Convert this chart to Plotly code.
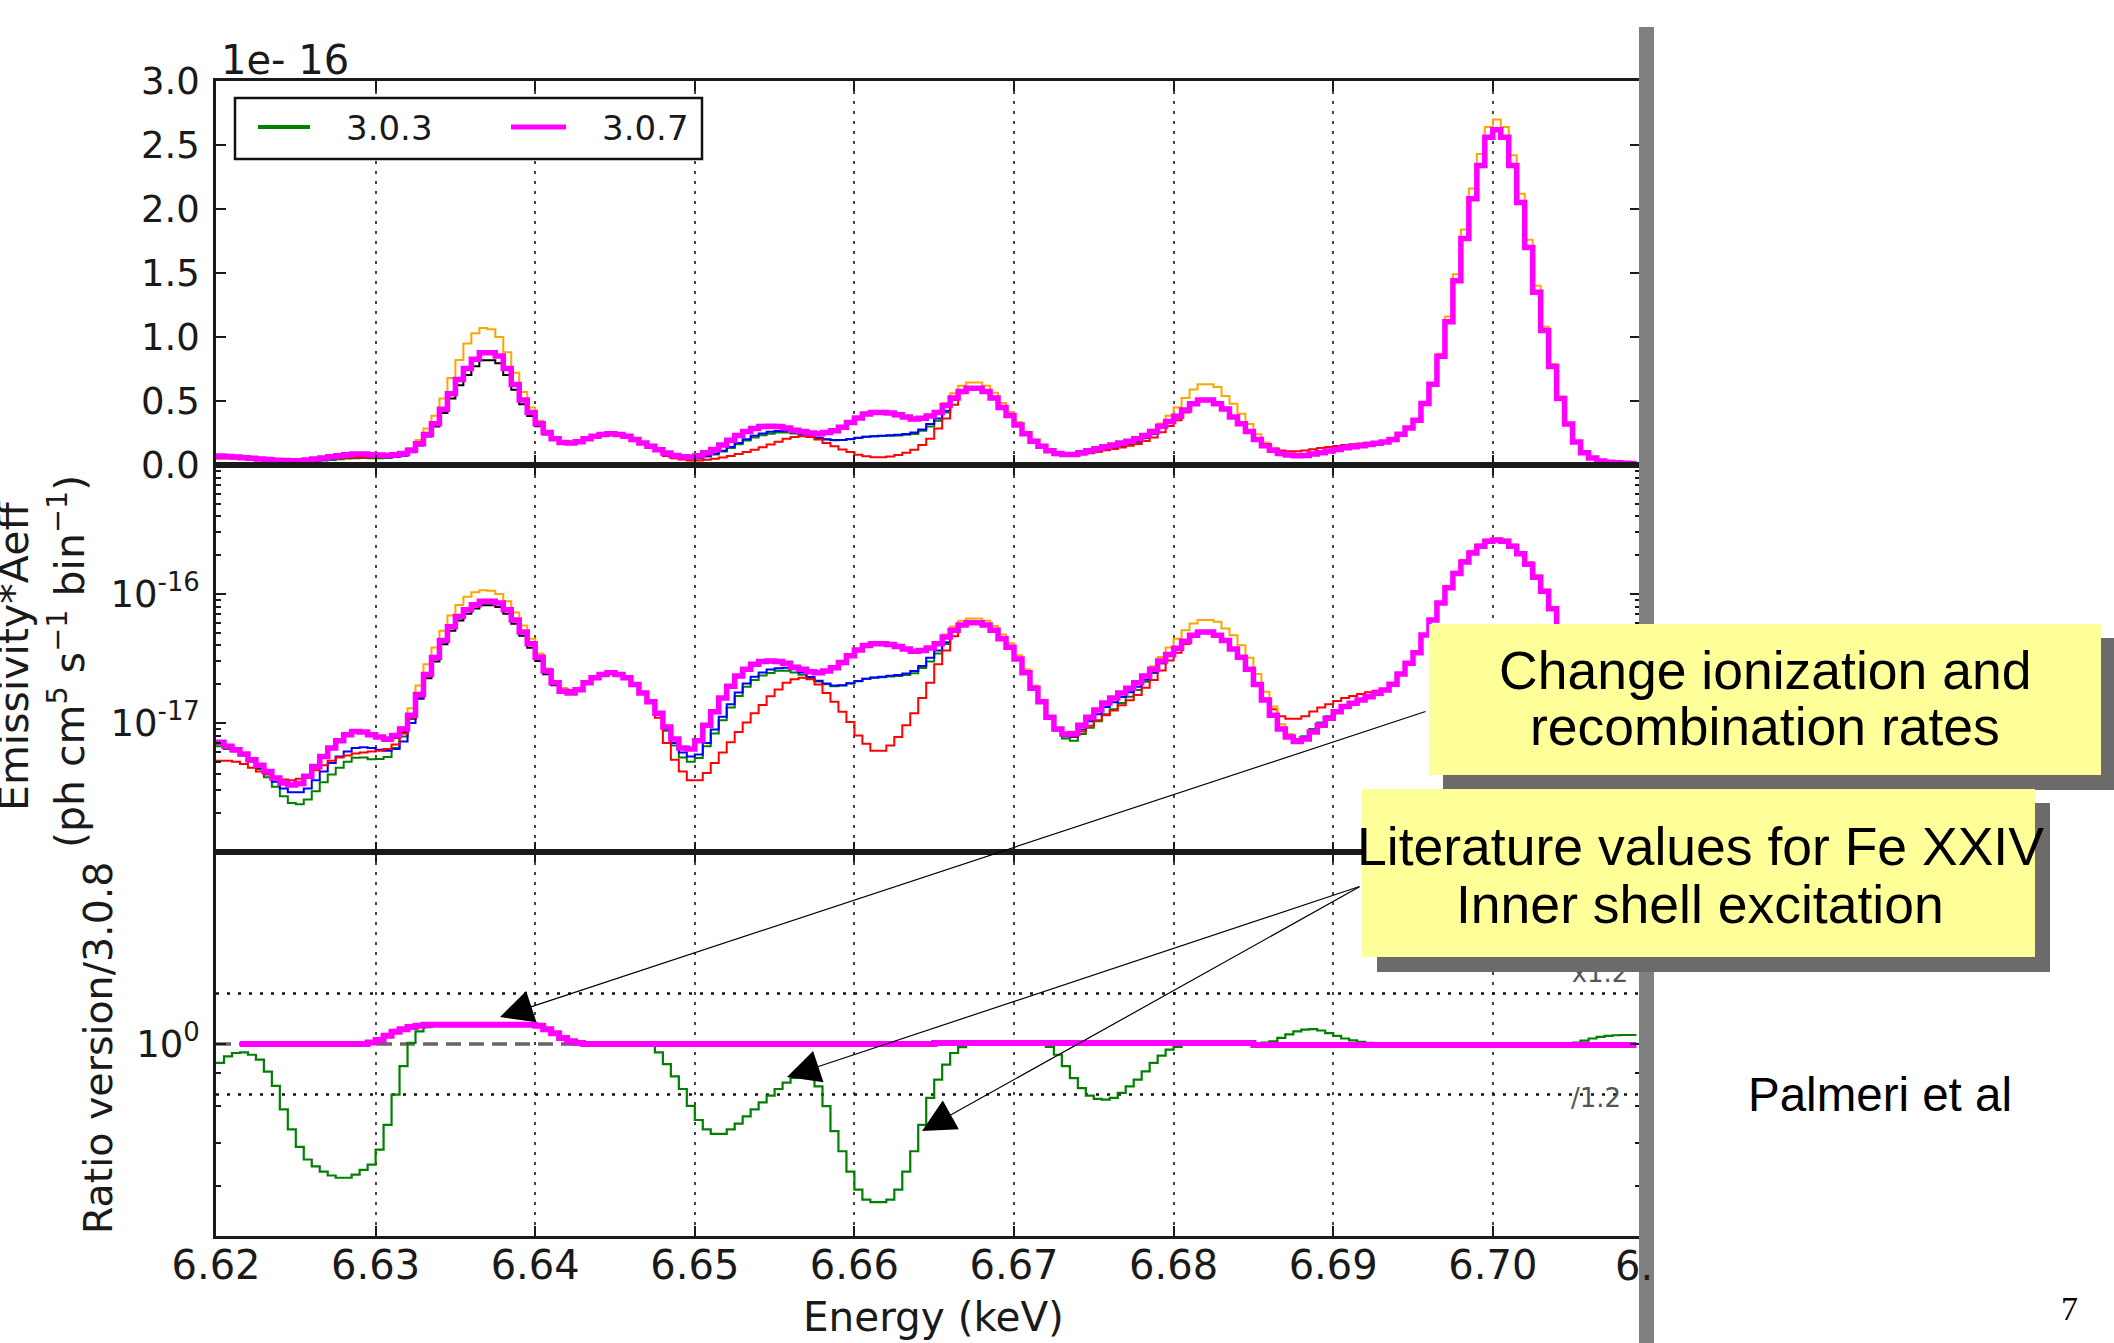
import plotly.graph_objects as go

W, H = 2114, 1343

# ---------------- data ----------------
# spectral bins: left edges 6.620, 6.6205, ... (0.5 eV bins) keV
BIN_START = 6.620
BIN_WIDTH = 0.0005

# emissivity*Aeff in units of 1e-18 ph cm^5 s^-1 bin^-1
em_307 = [  # magenta, version 3.0.7
    7.1, 6.6, 6.2, 5.75, 5.2, 4.7, 4.2, 3.75, 3.42, 3.3,
    3.4, 3.86, 4.6, 5.5, 6.4, 7.3, 8.1, 8.6, 8.5, 8.1,
    7.8, 7.5, 8.0, 9.0, 11.5, 16.6, 23.8, 32.2, 43.6, 55.7,
    66.8, 75.4, 82.6, 87.7, 87.7, 85.1, 75.4, 62.9, 50.8, 41.1,
    32.3, 25.3, 20.5, 17.6, 17.1, 18.1, 20.5, 22.4, 23.8, 24.5,
    23.8, 22.4, 19.9, 17.1, 14.6, 11.9, 9.3, 7.5, 6.4, 6.3,
    7.3, 9.6, 12.2, 15.6, 19.3, 23.1, 26.1, 28.6, 30.0, 30.3,
    30.0, 29.0, 27.1, 26.1, 25.0, 24.5, 25.3, 26.8, 29.5, 33.2,
    36.8, 39.8, 41.1, 41.1, 40.6, 39.2, 37.5, 36.0, 36.5, 38.2,
    41.1, 46.4, 52.4, 57.4, 59.9, 59.9, 57.4, 52.4, 45.0, 38.7,
    31.3, 24.5, 18.6, 14.6, 11.1, 9.0, 8.2, 8.3, 9.6, 11.1,
    12.6, 14.3, 15.6, 17.1, 18.6, 20.5, 23.1, 26.1, 30.3, 34.0,
    38.0, 43.0, 47.8, 50.8, 50.8, 47.8, 43.7, 37.5, 32.3, 26.1,
    19.9, 15.1, 11.5, 9.0, 7.8, 7.2, 7.5, 8.5, 9.6, 10.9,
    12.2, 13.4, 14.2, 15.1, 16.0, 17.0, 18.0, 20.0, 24.0, 29.0,
    35.0, 48.0, 63.0, 85.0, 112, 144, 177, 208, 234, 256,
    262, 256, 234, 205, 170, 135, 105, 77, 52, 32,
    18, 9.5, 5.5, 3.2, 2.2, 1.7, 1.4, 1.2,
]
em_308 = [  # black, version 3.0.8
    7.1, 6.6, 6.2, 5.75, 5.2, 4.7, 4.2, 3.75, 3.42, 3.3,
    3.4, 3.86, 4.6, 5.5, 6.4, 7.3, 8.1, 8.6, 8.5, 8.1,
    7.7, 7.3, 7.7, 8.5, 10.8, 15.5, 22.2, 30.0, 40.7, 52.0,
    62.3, 70.3, 77.1, 81.8, 81.8, 79.4, 70.3, 58.7, 47.4, 38.3,
    30.2, 23.9, 19.6, 17.1, 16.8, 18.0, 20.5, 22.4, 23.8, 24.5,
    23.8, 22.4, 19.9, 17.1, 14.6, 11.9, 9.3, 7.5, 6.4, 6.3,
    7.3, 9.6, 12.2, 15.6, 19.3, 23.1, 26.1, 28.6, 30.0, 30.3,
    30.0, 29.0, 27.1, 26.1, 25.0, 24.5, 25.3, 26.8, 29.5, 33.2,
    36.8, 39.8, 41.1, 41.1, 40.6, 39.2, 37.5, 36.0, 36.5, 38.2,
    41.1, 46.4, 52.4, 57.4, 59.9, 59.9, 57.4, 52.4, 45.0, 38.7,
    31.3, 24.5, 18.6, 14.6, 11.1, 9.0, 8.2, 8.3, 9.6, 11.1,
    12.6, 14.3, 15.6, 17.1, 18.6, 20.5, 23.1, 26.1, 30.3, 34.0,
    38.0, 43.0, 47.8, 50.8, 50.8, 47.8, 43.7, 37.5, 32.3, 26.1,
    19.9, 15.1, 11.5, 9.0, 7.8, 7.2, 7.5, 8.5, 9.6, 10.9,
    12.2, 13.4, 14.2, 15.1, 16.0, 17.0, 18.0, 20.0, 24.0, 29.0,
    35.0, 48.0, 63.0, 85.0, 112, 144, 177, 208, 234, 256,
    262, 256, 234, 205, 170, 135, 105, 77, 52, 32,
    18, 9.5, 5.5, 3.2, 2.2, 1.7, 1.4, 1.2,
]
em_303 = [  # green, version 3.0.3
    6.6, 6.3, 6.0, 5.6, 5.0, 4.4, 3.8, 3.2, 2.7, 2.4,
    2.35, 2.55, 2.96, 3.47, 3.98, 4.5, 5.0, 5.37, 5.4, 5.24,
    5.26, 5.45, 6.4, 7.85, 10.8, 16.2, 23.6, 32.2, 43.6, 55.7,
    66.8, 75.4, 82.6, 87.7, 87.7, 85.1, 75.4, 62.9, 50.8, 41.1,
    32.3, 25.3, 20.5, 17.6, 17.1, 18.1, 20.5, 22.4, 23.8, 24.5,
    23.8, 22.4, 19.9, 17.1, 14.6, 11.6, 8.7, 6.7, 5.4, 5.0,
    5.35, 6.6, 8.3, 10.5, 13.2, 16.2, 19.1, 21.5, 23.3, 24.4,
    25.4, 25.4, 24.6, 23.7, 22.2, 21.0, 20.0, 19.3, 19.5, 20.2,
    21.1, 22.0, 22.4, 22.6, 22.9, 23.1, 23.6, 24.3, 26.7, 30.0,
    34.6, 41.0, 50.7, 56.8, 59.8, 59.9, 57.4, 52.4, 45.0, 38.7,
    31.3, 24.5, 18.6, 14.6, 11.0, 8.7, 7.6, 7.3, 8.2, 9.2,
    10.3, 11.7, 12.8, 14.3, 16.0, 18.0, 20.9, 24.4, 29.1, 33.3,
    37.6, 43.0, 47.8, 50.8, 50.8, 47.8, 43.7, 37.5, 32.3, 26.1,
    19.9, 15.2, 11.6, 9.2, 8.1, 7.5, 7.9, 9.0, 10.1, 11.3,
    12.6, 13.7, 14.4, 15.2, 16.0, 17.0, 18.0, 20.0, 24.0, 29.0,
    35.0, 48.0, 63.0, 85.0, 112, 144, 177, 208, 234, 256,
    262, 256, 234, 205, 170, 135, 105, 77, 52, 32.1,
    18.1, 9.6, 5.6, 3.3, 2.27, 1.75, 1.45, 1.24,
]
em_blue = [
    7.1, 6.6, 6.2, 5.7, 5.1, 4.5, 4.0, 3.5, 3.1, 2.9,
    2.9, 3.1, 3.6, 4.2, 4.9, 5.5, 6.0, 6.4, 6.5, 6.4,
    6.2, 6.1, 6.3, 7.2, 10.0, 15.5, 23.0, 32.0, 43.6, 55.7,
    66.8, 75.4, 82.6, 87.7, 87.7, 85.1, 75.4, 62.9, 50.8, 41.1,
    32.3, 25.3, 20.5, 17.6, 17.1, 18.1, 20.5, 22.4, 23.8, 24.5,
    23.8, 22.4, 19.9, 17.1, 14.6, 11.8, 9.0, 7.0, 5.9, 5.5,
    5.7, 7.0, 8.9, 11.2, 14.0, 17.2, 20.2, 22.8, 24.6, 26.0,
    26.6, 26.8, 26.1, 24.6, 22.7, 21.3, 20.2, 19.5, 19.6, 20.3,
    21.2, 22.0, 22.5, 22.8, 23.2, 23.6, 24.2, 25.3, 27.7, 32.0,
    36.4, 42.3, 51.5, 57.0, 59.9, 59.9, 57.4, 52.4, 45.0, 38.7,
    31.3, 24.5, 18.6, 14.6, 11.1, 8.9, 7.9, 7.8, 8.9, 10.3,
    11.7, 13.3, 14.5, 15.9, 17.3, 19.1, 21.6, 24.6, 29.0, 33.5,
    37.8, 43.0, 47.8, 50.8, 50.8, 47.8, 43.7, 37.5, 32.3, 26.1,
    19.9, 15.1, 11.5, 9.0, 7.8, 7.2, 7.5, 8.5, 9.6, 10.9,
    12.2, 13.4, 14.2, 15.1, 16.0, 17.0, 18.0, 20.0, 24.0, 29.0,
    35.0, 48.0, 63.0, 85.0, 112, 144, 177, 208, 234, 256,
    262, 256, 234, 205, 170, 135, 105, 77, 52, 32,
    18, 9.5, 5.5, 3.2, 2.2, 1.7, 1.4, 1.2,
]
em_red = [
    5.1, 5.1, 5.0, 4.8, 4.5, 4.2, 4.0, 3.8, 3.65, 3.6,
    3.7, 3.9, 4.3, 4.7, 5.1, 5.4, 5.6, 5.8, 5.9, 6.0,
    6.1, 6.3, 6.8, 8.3, 11.0, 16.0, 23.0, 32.0, 43.6, 55.7,
    66.8, 75.4, 82.6, 87.7, 87.7, 85.1, 75.4, 62.9, 50.8, 41.1,
    32.3, 25.3, 20.5, 18.5, 18.0, 18.5, 20.5, 22.4, 23.8, 24.5,
    23.8, 22.4, 19.9, 17.1, 14.6, 11.0, 7.0, 5.2, 4.2, 3.6,
    3.6, 4.1, 4.9, 5.9, 7.1, 8.5, 10.1, 11.9, 13.8, 16.1,
    18.2, 20.5, 21.8, 22.4, 21.8, 19.9, 17.1, 14.6, 12.2, 10.2,
    8.0, 6.9, 6.1, 6.1, 6.7, 7.8, 9.6, 11.9, 15.6, 20.5,
    28.6, 36.4, 47.0, 57.4, 59.9, 59.9, 57.4, 52.4, 45.0, 38.7,
    31.3, 24.5, 18.6, 14.6, 11.1, 8.8, 8.0, 7.9, 8.6, 9.5,
    10.5, 11.5, 12.5, 13.7, 15.0, 16.5, 18.8, 21.5, 25.5, 30.5,
    35.0, 41.0, 47.8, 50.8, 50.8, 47.8, 43.7, 37.5, 32.3, 26.1,
    19.9, 15.5, 12.8, 11.3, 10.8, 10.8, 11.3, 12.3, 13.2, 14.0,
    14.8, 15.6, 16.2, 16.8, 17.3, 17.8, 18.3, 20.0, 24.0, 29.0,
    35.0, 48.0, 63.0, 85.0, 112, 144, 177, 208, 234, 256,
    262, 256, 234, 205, 170, 135, 105, 77, 52, 32,
    18, 9.5, 5.5, 3.2, 2.2, 1.7, 1.4, 1.2,
]
em_orange = [
    7.1, 6.6, 6.2, 5.75, 5.2, 4.7, 4.2, 3.75, 3.42, 3.3,
    3.4, 3.86, 4.6, 5.5, 6.4, 7.3, 8.1, 8.6, 8.5, 8.1,
    7.8, 7.5, 8.0, 9.3, 13.0, 19.5, 28.5, 38.5, 52.0, 68.0,
    82.0, 95.0, 103, 107, 106, 100, 88, 72, 57, 45,
    34.5, 26.5, 21.0, 18.5, 17.8, 18.3, 20.5, 22.4, 23.8, 24.5,
    23.8, 22.4, 19.9, 17.1, 14.6, 11.9, 9.3, 7.5, 6.4, 6.3,
    7.3, 9.6, 12.2, 15.6, 19.3, 23.1, 26.1, 28.6, 30.0, 30.3,
    30.0, 29.0, 27.1, 26.1, 25.0, 24.5, 25.3, 26.8, 29.5, 33.2,
    36.8, 39.8, 41.1, 41.1, 40.6, 39.2, 37.5, 36.0, 36.5, 38.2,
    41.5, 48.5, 56.0, 62.0, 64.5, 64.5, 62.0, 56.5, 48.5, 41.5,
    33.5, 26.0, 19.5, 15.0, 11.3, 9.1, 8.3, 8.3, 9.6, 11.1,
    12.6, 14.3, 15.6, 17.1, 18.6, 20.5, 23.5, 27.5, 32.5, 38.5,
    45.0, 52.4, 59.0, 63.0, 63.0, 61.0, 54.0, 47.8, 40.0, 32.0,
    24.0, 17.5, 13.4, 9.8, 8.2, 7.4, 7.6, 8.5, 9.6, 10.9,
    12.2, 13.4, 14.2, 15.1, 16.0, 17.0, 18.0, 20.0, 24.0, 29.0,
    35.0, 48.0, 63.0, 87.0, 116, 149, 184, 216, 243, 264,
    270, 264, 242, 212, 176, 140, 108, 79, 53.5, 33,
    18, 9.5, 5.5, 3.2, 2.2, 1.7, 1.4, 1.2,
]

# ratio to version 3.0.8 (bottom panel)
ratio_303 = [
    0.934, 0.956, 0.968, 0.970, 0.962, 0.945, 0.905, 0.86, 0.79, 0.735,
    0.69, 0.659, 0.643, 0.631, 0.622, 0.617, 0.617, 0.624, 0.635, 0.647,
    0.683, 0.747, 0.833, 0.923, 1.004, 1.047, 1.063, 1.072, 1.072, 1.072,
    1.072, 1.072, 1.072, 1.072, 1.072, 1.072, 1.072, 1.072, 1.072, 1.072,
    1.068, 1.055, 1.04, 1.022, 1.01, 1.004, 1.0, 1.0, 1.0, 1.0,
    1.0, 1.0, 1.0, 1.0, 1.0, 0.97, 0.93, 0.89, 0.85, 0.80,
    0.76, 0.735, 0.723, 0.723, 0.735, 0.75, 0.77, 0.79, 0.81, 0.83,
    0.85, 0.87, 0.885, 0.893, 0.885, 0.858, 0.799, 0.730, 0.679, 0.631,
    0.591, 0.570, 0.565, 0.565, 0.570, 0.591, 0.631, 0.679, 0.747, 0.823,
    0.879, 0.928, 0.968, 0.989, 0.998, 1.0, 1.0, 1.0, 1.0, 1.0,
    1.0, 1.0, 1.0, 1.0, 0.99, 0.962, 0.923, 0.884, 0.853, 0.830,
    0.820, 0.818, 0.823, 0.838, 0.858, 0.879, 0.906, 0.934, 0.959, 0.980,
    0.99, 1.0, 1.0, 1.0, 1.0, 1.0, 1.0, 1.0, 1.0, 1.0,
    1.0, 1.005, 1.01, 1.022, 1.035, 1.047, 1.053, 1.055, 1.05, 1.04,
    1.03, 1.02, 1.013, 1.008, 1.004, 1.002, 1.0, 1.0, 1.0, 1.0,
    1.0, 1.0, 1.0, 1.0, 1.0, 1.0, 1.0, 1.0, 1.0, 1.0,
    1.0, 1.0, 1.0, 1.0, 1.0, 1.0, 1.0, 1.0, 1.0, 1.002,
    1.005, 1.012, 1.02, 1.026, 1.03, 1.032, 1.033, 1.033,
]
ratio_307 = [
    None, None, None, 1.0, 1.0, 1.0, 1.0, 1.0, 1.0, 1.0,
    1.0, 1.0, 1.0, 1.0, 1.0, 1.0, 1.0, 1.0, 1.0, 1.005,
    1.015, 1.03, 1.045, 1.055, 1.063, 1.068, 1.072, 1.072, 1.072, 1.072,
    1.072, 1.072, 1.072, 1.072, 1.072, 1.072, 1.072, 1.072, 1.072, 1.072,
    1.068, 1.055, 1.04, 1.022, 1.01, 1.004, 1.0, 1.0, 1.0, 1.0,
    1.0, 1.0, 1.0, 1.0, 1.0, 1.0, 1.0, 1.0, 1.0, 1.0,
    1.0, 1.0, 1.0, 1.0, 1.0, 1.0, 1.0, 1.0, 1.0, 1.0,
    1.0, 1.0, 1.0, 1.0, 1.0, 1.0, 1.0, 1.0, 1.0, 1.0,
    1.0, 1.0, 1.0, 1.0, 1.0, 1.0, 1.0, 1.0, 1.0, 1.0,
    1.004, 1.004, 1.004, 1.004, 1.004, 1.004, 1.004, 1.004, 1.004, 1.004,
    1.004, 1.004, 1.004, 1.004, 1.004, 1.004, 1.004, 1.004, 1.004, 1.004,
    1.004, 1.004, 1.004, 1.004, 1.004, 1.004, 1.004, 1.004, 1.004, 1.004,
    1.004, 1.004, 1.004, 1.004, 1.004, 1.004, 1.004, 1.004, 1.004, 1.004,
    0.996, 0.996, 0.996, 0.996, 0.996, 0.996, 0.996, 0.996, 0.996, 0.996,
    0.996, 0.996, 0.996, 0.996, 0.996, 0.996, 0.996, 0.996, 0.996, 0.996,
    0.996, 0.996, 0.996, 0.996, 0.996, 0.996, 0.996, 0.996, 0.996, 0.996,
    0.996, 0.996, 0.996, 0.996, 0.996, 0.996, 0.996, 0.996, 0.996, 0.996,
    0.996, 0.996, 0.996, 0.996, 0.996, 0.996, 0.996, 0.996,
]

x_tick_vals = [6.62, 6.63, 6.64, 6.65, 6.66, 6.67, 6.68, 6.69, 6.70]
x_tick_text = ["6.62", "6.63", "6.64", "6.65", "6.66", "6.67", "6.68", "6.69", "6.70"]
lin_tick_vals = [0.0, 0.5, 1.0, 1.5, 2.0, 2.5, 3.0]          # x 1e-16
lin_tick_text = ["0.0", "0.5", "1.0", "1.5", "2.0", "2.5", "3.0"]
log_tick_vals = [1e-16, 1e-17]
log_tick_text = ["10<sup>-16</sup>", "10<sup>-17</sup>"]
ratio_tick_vals = [1.0]
ratio_tick_text = ["10<sup>0</sup>"]
ratio_band = [1.2, 1 / 1.2]

series = [  # (name, values, colour, width) in drawing order
    ("3.0.8", em_308, "#000000", 2.0),
    ("3.0.3", em_303, "#008000", 2.0),
    ("blue", em_blue, "#0000ff", 2.0),
    ("red", em_red, "#ff0000", 2.0),
    ("orange", em_orange, "#ffa500", 2.0),
    ("3.0.7", em_307, "#ff00ff", 5.5),
]

# ---------------- helpers ----------------
def px(x):
    return x / W


def py(y):
    return 1 - y / H


def steps(vals, scale=1.0):
    xs = [BIN_START + BIN_WIDTH * i for i in range(len(vals) + 1)]
    ys = [None if v is None else v * scale for v in vals]
    ys.append(ys[-1])
    return xs, ys


X_RANGE = [6.62, 6.62 + (1640 - 216) / 15960]
XD = [px(216), px(1640)]
YD_TOP = [py(465), py(81)]
YD_MID = [py(852), py(465)]
YD_BOT = [py(1236), py(852)]

TICKFONT = dict(family="DejaVu Sans", size=37, color="#1a1a1a")
XTICKFONT = dict(family="DejaVu Sans", size=40, color="#1a1a1a")
AXCOL = "#1a1a1a"

fig = go.Figure()

for name, vals, col, wd in series:
    xs, ys = steps(vals, 1e-18)
    fig.add_trace(go.Scatter(x=xs, y=ys, mode="lines", name=name, line=dict(color=col, width=wd, shape="hv"),
                             xaxis="x", yaxis="y", showlegend=False, hoverinfo="skip"))
    fig.add_trace(go.Scatter(x=xs, y=ys, mode="lines", name=name, line=dict(color=col, width=wd, shape="hv"),
                             xaxis="x2", yaxis="y2", showlegend=False, hoverinfo="skip"))

# ratio panel reference lines
for yv in ratio_band:
    fig.add_trace(go.Scatter(x=X_RANGE, y=[yv, yv], mode="lines", line=dict(color="#111", width=2.5, dash="3px,8px"),
                             xaxis="x3", yaxis="y3", showlegend=False, hoverinfo="skip"))
fig.add_trace(go.Scatter(x=X_RANGE, y=[1.0, 1.0], mode="lines", line=dict(color="#666666", width=3.5, dash="15px,8px"),
                         xaxis="x3", yaxis="y3", showlegend=False, hoverinfo="skip"))
xs, ys = steps(ratio_303)
fig.add_trace(go.Scatter(x=xs, y=ys, mode="lines", name="3.0.3 / 3.0.8", line=dict(color="#008000", width=2.2, shape="hv"),
                         xaxis="x3", yaxis="y3", showlegend=False, hoverinfo="skip"))
xs, ys = steps(ratio_307)
fig.add_trace(go.Scatter(x=xs, y=ys, mode="lines", name="3.0.7 / 3.0.8", line=dict(color="#ff00ff", width=6, shape="hv"),
                         xaxis="x3", yaxis="y3", showlegend=False, hoverinfo="skip"))
# band labels
fig.add_trace(go.Scatter(x=[6.62 + 1384 / 15960, 6.62 + 1380 / 15960], y=[1.28, 0.815], mode="text",
                         text=["x1.2", "/1.2"], textposition="middle center",
                         textfont=dict(family="DejaVu Sans", size=26, color="#555555"),
                         xaxis="x3", yaxis="y3", showlegend=False, hoverinfo="skip", cliponaxis=False))

xcommon = dict(range=X_RANGE, tickvals=x_tick_vals, ticktext=x_tick_text, ticks="inside", ticklen=10, tickwidth=2,
               tickcolor=AXCOL, showline=True, linecolor=AXCOL, linewidth=2.5, mirror="allticks",
               showgrid=True, gridcolor="#444444", gridwidth=1.5, griddash="3px,7px", zeroline=False,
               tickfont=XTICKFONT, domain=XD, automargin=False)
ycommon = dict(ticks="inside", ticklen=10, tickwidth=2, tickcolor=AXCOL, showline=True, linecolor=AXCOL,
               linewidth=2.5, mirror="allticks", showgrid=False, zeroline=False, tickfont=TICKFONT,
               ticklabelstandoff=6, automargin=False)

minor_mid = [k * 10.0 ** e for e in (-18, -17, -16) for k in range(2, 10)]

fig.update_layout(
    template="none",
    width=W, height=H, margin=dict(l=0, r=0, t=0, b=0, autoexpand=False), paper_bgcolor="white",
    plot_bgcolor="white", showlegend=False,
    xaxis=dict(xcommon, anchor="y", showticklabels=False),
    xaxis2=dict(xcommon, anchor="y2", showticklabels=False),
    xaxis3=dict(xcommon, anchor="y3", showticklabels=True, ticklabelstandoff=-8),
    yaxis=dict(ycommon, domain=YD_TOP, anchor="x", range=[0, 3.0e-16],
               tickvals=[v * 1e-16 for v in lin_tick_vals], ticktext=lin_tick_text),
    yaxis2=dict(ycommon, domain=YD_MID, anchor="x2", type="log", range=[-18, -15],
                tickvals=log_tick_vals, ticktext=log_tick_text,
                minor=dict(tickvals=minor_mid, ticks="inside", ticklen=5, tickwidth=1.5, tickcolor=AXCOL,
                           showgrid=False)),
    yaxis3=dict(ycommon, domain=YD_BOT, anchor="x3", type="log", range=[-0.30103, 0.30103],
                tickvals=ratio_tick_vals, ticktext=ratio_tick_text,
                minor=dict(tickvals=[0.6, 0.7, 0.8, 0.9], ticks="inside", ticklen=5, tickwidth=1.5,
                           tickcolor=AXCOL, showgrid=False)),
)

shapes = []


def rect(x0, y0, x1, y1, fill, line_w=0, line_c=None):
    return dict(type="rect", xref="paper", yref="paper", x0=px(x0), x1=px(x1), y0=py(y1), y1=py(y0),
                fillcolor=fill, line=dict(width=line_w, color=line_c or fill), layer="above")


# slide border bar (cuts the figure on the right)
shapes.append(rect(1639, 27, 1654, 1343, "#808080"))
# legend
shapes.append(rect(235, 98, 702, 159, "white", 2.5, "#111111"))
shapes.append(dict(type="line", xref="paper", yref="paper", x0=px(258), x1=px(310), y0=py(127), y1=py(127),
                   line=dict(color="#008000", width=4), layer="above"))
shapes.append(dict(type="line", xref="paper", yref="paper", x0=px(511), x1=px(566), y0=py(127), y1=py(127),
                   line=dict(color="#ff00ff", width=5), layer="above"))
# callout boxes with shadows
shapes.append(rect(1443, 638, 2114, 790, "#6b6b6b"))
shapes.append(rect(1429, 624, 2101, 775, "#ffff99"))
shapes.append(rect(1377, 803, 2050, 972, "#6b6b6b"))
shapes.append(rect(1362, 789, 2035, 957, "#ffff99"))
fig.update_layout(shapes=shapes)

ann = []


def text(x, y, s, size, family="DejaVu Sans", color="#1a1a1a", xanchor="center", angle=0):
    ann.append(dict(xref="paper", yref="paper", x=px(x), y=py(y), text=s, showarrow=False, xanchor=xanchor,
                    yanchor="middle", textangle=angle, font=dict(family=family, size=size, color=color)))


text(219, 60, "1e- 16", 40, xanchor="left")
text(14, 656, "Emissivity*Aeff", 41, angle=-90)
text(67, 662, "(ph cm<sup>5</sup> s<sup>\u22121</sup> bin<sup>\u22121</sup>)", 41, angle=-90)
text(98, 1048, "Ratio version/3.0.8", 39.5, angle=-90)
text(933, 1317, "Energy (keV)", 40.5)
text(1613, 1266, "6.", 40, xanchor="left")
text(344, 128, "3.0.3", 34, xanchor="left")
text(600, 128, "3.0.7", 34, xanchor="left")
text(1765, 670, "Change ionization and", 53.5, family="Liberation Sans", color="black")
text(1765, 726, "recombination rates", 53.5, family="Liberation Sans", color="black")
text(1700, 846, "Literature values for Fe XXIV", 53.5, family="Liberation Sans", color="black")
text(1700, 904, "Inner shell excitation", 53.5, family="Liberation Sans", color="black")
text(1880, 1094, "Palmeri et al", 47.5, family="Liberation Sans", color="black")
text(2069, 1308, "7", 34, family="Liberation Serif", color="black")


def arrow(tip, tail):
    ann.append(dict(xref="paper", yref="paper", x=px(tip[0]), y=py(tip[1]), text="", showarrow=True,
                    axref="pixel", ayref="pixel", ax=tail[0] - tip[0], ay=tail[1] - tip[1],
                    arrowhead=2, arrowsize=5.5, arrowwidth=1.2, arrowcolor="black", standoff=0))


arrow((500, 1017), (1427, 711))
arrow((787, 1077), (1361, 886))
arrow((922, 1131), (1361, 886))
fig.update_layout(annotations=ann)

fig.write_html("out.html", config={"displayModeBar": False})
